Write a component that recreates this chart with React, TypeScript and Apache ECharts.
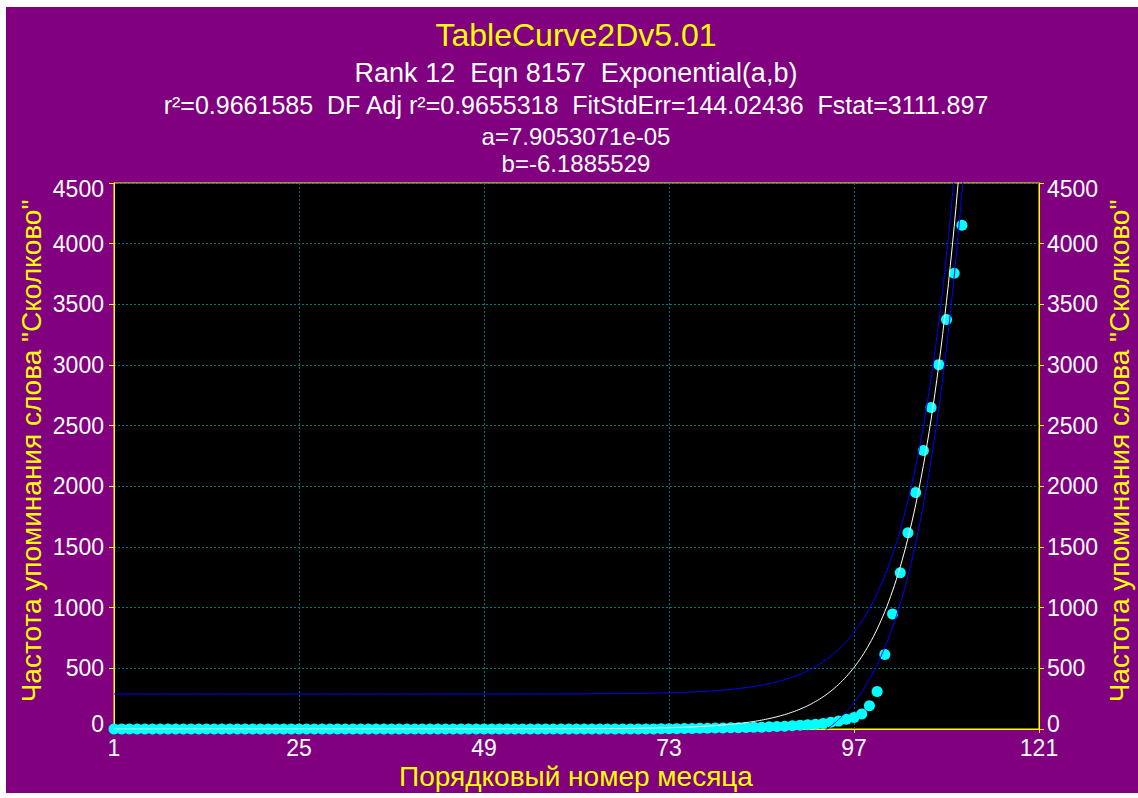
import React, { useEffect, useRef } from "react";
import * as echarts from "echarts";

// ---- texts ----
const TITLE = "TableCurve2Dv5.01";
const SUB_LINES = [
  "Rank 12  Eqn 8157  Exponential(a,b)",
  "r²=0.9661585  DF Adj r²=0.9655318  FitStdErr=144.02436  Fstat=3111.897",
  "a=7.9053071e-05",
  "b=-6.1885529",
];
const X_NAME = "Порядковый номер месяца";
const Y_NAME = "Частота упоминания слова \"Сколково\"";

// ---- axes ----
const X_MIN = 1;
const X_MAX = 121;
const X_STEP = 24;
const Y_MIN = 0;
const Y_MAX = 4500;
const Y_STEP = 500;

// ---- data: month number starts at FIRST_MONTH, one value per month ----
const FIRST_MONTH = 1;
const COUNTS = [
  0, 0, 0, 0, 0, 0, 0, 0, 0, 0,
  0, 0, 0, 0, 0, 0, 0, 0, 0, 0,
  0, 0, 0, 0, 0, 0, 0, 0, 0, 0,
  0, 0, 0, 0, 0, 0, 0, 0, 0, 0,
  0, 0, 0, 0, 0, 0, 0, 0, 0, 0,
  0, 0, 0, 0, 0, 0, 0, 0, 0, 0,
  0, 0, 0, 0, 0, 0, 0, 0, 0, 0,
  1, 2, 2, 3, 4, 5, 6, 7, 8, 9,
  10, 11, 12, 14, 15, 18, 21, 23, 26, 30,
  35, 40, 45, 55, 65, 80, 95, 124, 192, 309,
  614, 947, 1288, 1617, 1950, 2296, 2650, 3003, 3375, 3756,
  4151,
];

// ---- fitted model (from the chart header): y = a*exp(-x/b) ----
const FIT_A = 7.9053071e-5;
const FIT_B = -6.1885529;
const FIT_X_END = 112;
const FIT_X_STEP = 0.25;
// prediction band half-width parameters
const BAND_BASE = 288;
const BAND_SLOPE = 0.0705;

// ---- frame ----
const OX = 6;
const OY = 7;

export default function App() {
  const ref = useRef<HTMLDivElement>(null);

  useEffect(() => {
    if (!ref.current) return;
    const chart = echarts.init(ref.current, undefined, { renderer: "svg" });

    const scatter = COUNTS.map((v, i) => [FIRST_MONTH + i - X_MIN, v]);
    const fit: number[][] = [];
    const upper: number[][] = [];
    const lower: number[][] = [];
    for (let x = X_MIN; x <= FIT_X_END + 1e-9; x += FIT_X_STEP) {
      const y = FIT_A * Math.exp(-x / FIT_B);
      const w = Math.sqrt(BAND_BASE * BAND_BASE + (BAND_SLOPE * y) * (BAND_SLOPE * y));
      fit.push([x - X_MIN, y]);
      upper.push([x - X_MIN, y + w]);
      lower.push([x - X_MIN, y - w]);
    }

    const FONT = "Liberation Sans, Arial, sans-serif";
    const labelTok = { color: "#ffffff", fontSize: 23, fontFamily: FONT };
    const yLabel = {
      color: "#ffffff",
      fontSize: 23,
      fontFamily: FONT,
      formatter: (v: number) =>
        v === Y_MIN ? `{lo|${v}}` : v === Y_MAX ? `{hi|${v}}` : `{n|${v}}`,
      rich: {
        n: { ...labelTok },
        lo: { ...labelTok, padding: [0, 0, 10, 0] },
        hi: { ...labelTok, padding: [12, 0, 0, 0] },
      },
    };
    const yAxisCommon = {
      type: "value",
      min: Y_MIN,
      max: Y_MAX,
      interval: Y_STEP,
      axisLine: { show: true, lineStyle: { color: "#ffff00", width: 1 } },
      axisTick: { show: true, length: 5, lineStyle: { color: "#ffff00" } },
    };

    const titleX = 576 - OX;
    const textLine = (text: string, y: number, size: number, color: string) => ({
      type: "text",
      x: titleX,
      y,
      style: {
        text,
        fill: color,
        font: `${size}px ${FONT}`,
        textAlign: "center",
        textVerticalAlign: "middle",
      },
    });
    const yName = (x: number) => ({
      type: "text",
      x: x - OX,
      y: 451 - OY,
      rotation: Math.PI / 2,
      style: {
        text: Y_NAME,
        fill: "#ffff00",
        font: `28px ${FONT}`,
        textAlign: "center",
        textVerticalAlign: "middle",
      },
    });

    chart.setOption({
      animation: false,
      backgroundColor: "#800080",
      grid: {
        left: 114 - OX,
        top: 183 - OY,
        width: 925,
        height: 546,
        show: true,
        backgroundColor: "#000000",
        borderColor: "#ffff00",
        borderWidth: 1,
        outerBoundsMode: "none",
        containLabel: false,
      },
      xAxis: {
        type: "value",
        min: 0,
        max: X_MAX - X_MIN,
        interval: X_STEP,
        axisLine: { show: true, onZero: false, lineStyle: { color: "#ffff00", width: 1 } },
        axisTick: { show: true, length: 4, lineStyle: { color: "#ffff00" } },
        axisLabel: {
          color: "#ffffff",
          fontSize: 23,
          lineHeight: 18,
          fontFamily: FONT,
          margin: 10,
          formatter: (v: number) => String(v + X_MIN),
        },
        splitLine: { show: true, lineStyle: { color: "#007878", type: [2, 2], width: 1 } },
      },
      yAxis: [
        {
          ...yAxisCommon,
          position: "left",
          axisLabel: { ...yLabel, margin: 10 },
          splitLine: { show: true, lineStyle: { color: "#007878", type: [2, 2], width: 1 } },
        },
        {
          ...yAxisCommon,
          position: "right",
          axisLabel: { ...yLabel, margin: 8 },
          splitLine: { show: false },
        },
      ],
      series: [
        {
          type: "scatter",
          data: scatter,
          symbol: "circle",
          symbolSize: 11,
          itemStyle: { color: "#00ffff", opacity: 1 },
          z: 2,
        },
        {
          type: "line",
          data: fit,
          showSymbol: false,
          lineStyle: { color: "#ffffff", width: 1 },
          clip: true,
          z: 3,
        },
        {
          type: "line",
          data: upper,
          showSymbol: false,
          lineStyle: { color: "#0000ff", width: 1 },
          clip: true,
          z: 3,
        },
        {
          type: "line",
          data: lower,
          showSymbol: false,
          lineStyle: { color: "#0000ff", width: 1 },
          clip: true,
          z: 3,
        },
      ],
      graphic: [
        textLine(TITLE, 35 - OY, 32, "#ffff00"),
        textLine(SUB_LINES[0], 73 - OY, 27, "#ffffff"),
        textLine(SUB_LINES[1], 105 - OY, 25, "#ffffff"),
        textLine(SUB_LINES[2], 136 - OY, 24, "#ffffff"),
        textLine(SUB_LINES[3], 163 - OY, 24, "#ffffff"),
        textLine(X_NAME, 776 - OY, 28, "#ffff00"),
        yName(31),
        yName(1119),
      ],
    });

    return () => chart.dispose();
  }, []);

  return (
    <div style={{ position: "fixed", left: 0, top: 0, width: 1138, height: 798, background: "#ffffff" }}>
      <div
        ref={ref}
        style={{ position: "absolute", left: OX, top: OY, width: 1132, height: 786 }}
      />
    </div>
  );
}
